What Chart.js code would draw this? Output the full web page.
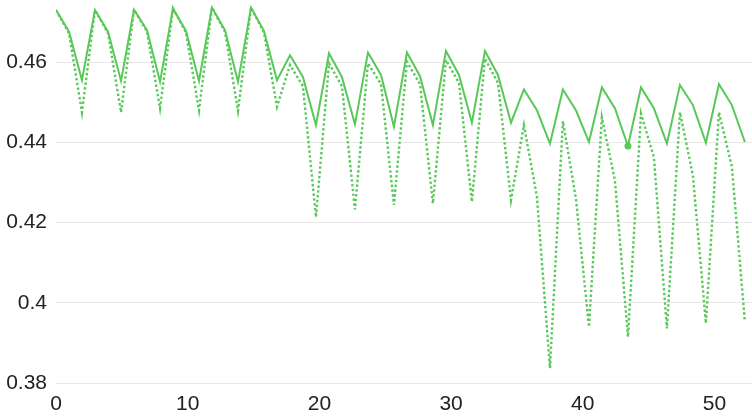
<!DOCTYPE html>
<html>
<head>
<meta charset="utf-8">
<script src="https://cdn.jsdelivr.net/npm/chart.js@4/dist/chart.umd.min.js"></script>
<style>
  html, body { margin: 0; padding: 0; background: #fff; }
  #wrap { width: 752px; height: 416px; }
</style>
</head>
<body>
<div id="wrap"><canvas id="chart" width="752" height="416"></canvas></div>
<script>
// sample positions along the x axis
const xs = [0, 0.99, 1.97, 2.96, 3.95, 4.94, 5.92, 6.91, 7.90, 8.88,
    9.87, 10.86, 11.84, 12.83, 13.82, 14.81, 15.79, 16.78, 17.77, 18.75,
    19.74, 20.73, 21.71, 22.70, 23.69, 24.68, 25.66, 26.65, 27.64, 28.62,
    29.61, 30.60, 31.58, 32.57, 33.56, 34.55, 35.53, 36.52, 37.51, 38.49,
    39.48, 40.47, 41.45, 42.44, 43.43, 44.42, 45.40, 46.39, 47.38, 48.36,
    49.35, 50.34, 51.32, 52.31];

// solid series
const solidValues = [0.4730, 0.4676, 0.4555, 0.4730, 0.4676, 0.4553,
    0.4731, 0.4680, 0.4551, 0.4734, 0.4678, 0.4553,
    0.4736, 0.4680, 0.4551, 0.4736, 0.4678, 0.4555,
    0.4617, 0.4563, 0.4443, 0.4622, 0.4563, 0.4445,
    0.4624, 0.4568, 0.4439, 0.4624, 0.4565, 0.4443,
    0.4628, 0.4568, 0.4449, 0.4628, 0.4568, 0.4449,
    0.4532, 0.4480, 0.4397, 0.4532, 0.4480, 0.4401,
    0.4537, 0.4485, 0.4391, 0.4537, 0.4485, 0.4397,
    0.4543, 0.4493, 0.4399, 0.4545, 0.4493, 0.4401];

// dotted series
const dottedValues = [0.4730, 0.4672, 0.4475, 0.4730, 0.4672, 0.4475,
    0.4731, 0.4676, 0.4485, 0.4734, 0.4674, 0.4480,
    0.4736, 0.4676, 0.4479, 0.4736, 0.4674, 0.4489,
    0.4593, 0.4540, 0.4214, 0.4597, 0.4540, 0.4233,
    0.4597, 0.4545, 0.4244, 0.4601, 0.4545, 0.4248,
    0.4605, 0.4548, 0.4252, 0.4609, 0.4548, 0.4256,
    0.4443, 0.4264, 0.3837, 0.4453, 0.4260, 0.3940,
    0.4462, 0.4306, 0.3915, 0.4472, 0.4363, 0.3936,
    0.4475, 0.4318, 0.3949, 0.4475, 0.4340, 0.3953];

const markedIndex = 44;

const green = 'rgb(88, 201, 88)';

function toPoints(values) {
    return values.map((v, i) => ({ x: xs[i], y: v }));
}

const ctx = document.getElementById('chart').getContext('2d');
new Chart(ctx, {
    type: 'line',
    data: {
        datasets: [
            {
                label: 'solid',
                data: toPoints(solidValues),
                borderColor: green,
                backgroundColor: green,
                borderWidth: 2,
                tension: 0,
                pointRadius: solidValues.map((v, i) => i === markedIndex ? 3.5 : 0),
                pointBorderWidth: 0,
            },
            {
                label: 'dotted',
                data: toPoints(dottedValues),
                borderColor: green,
                backgroundColor: green,
                borderWidth: 2.4,
                borderDash: [2.4, 2.4],
                tension: 0,
                pointRadius: 0,
            }
        ]
    },
    options: {
        responsive: false,
        animation: false,
        events: [],
        layout: { padding: 0 },
        plugins: {
            legend: { display: false },
            tooltip: { enabled: false },
        },
        scales: {
            x: {
                type: 'linear',
                min: 0,
                max: 52.85,
                grid: { display: false },
                border: { display: false },
                ticks: {
                    stepSize: 10,
                    includeBounds: false,
                    padding: 1,
                    maxRotation: 0,
                    color: '#222',
                    font: { family: 'Liberation Sans', size: 21 },
                },
                afterFit: scale => {
                    scale.height = 33;
                    scale.paddingLeft = 0;
                    scale.paddingRight = 0;
                },
            },
            y: {
                min: 0.38,
                max: 0.4755,
                grid: { color: '#e8e8e8', drawTicks: false },
                border: { display: false },
                ticks: {
                    stepSize: 0.02,
                    includeBounds: false,
                    padding: 9,
                    color: '#222',
                    font: { family: 'Liberation Sans', size: 21 },
                    callback: v => String(Math.round(v * 100) / 100),
                },
                afterFit: scale => {
                    scale.width = 56;
                    scale.paddingTop = 0;
                    scale.paddingBottom = 0;
                },
            }
        }
    }
});
</script>
</body>
</html>
